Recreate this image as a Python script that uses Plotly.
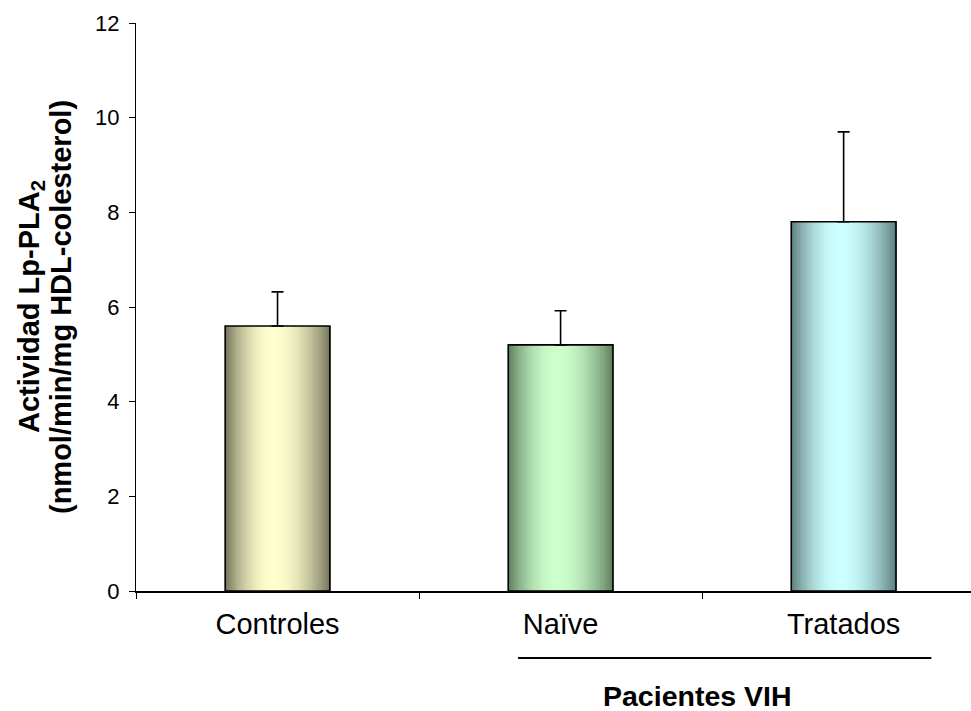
import math
import plotly.graph_objects as go

categories = ["Controles", "Naïve", "Tratados"]
values = [5.6, 5.2, 7.8]
errors_up = [0.72, 0.72, 1.9]
y_ticks = [0, 2, 4, 6, 8, 10, 12]

# gradient colours (edge, centre) per bar
edge_colors = [(112, 112, 88), (90, 122, 90), (90, 122, 122)]
center_colors = [(255, 255, 206), (204, 255, 204), (204, 255, 255)]

FONT = "Liberation Sans, Arial, sans-serif"
BAR_W = 0.37
N = 48
PEAK = 0.46

fig = go.Figure()

for k in range(N):
    t = (k + 0.5) / N
    u = 0.5 * t / PEAK if t < PEAK else 0.5 + 0.5 * (t - PEAK) / (1 - PEAK)
    s = math.sin(math.pi * u) ** 0.85
    cols = []
    for e, c in zip(edge_colors, center_colors):
        r, g, b = (round(e[i] + (c[i] - e[i]) * s) for i in range(3))
        cols.append(f"rgb({r},{g},{b})")
    fig.add_trace(go.Bar(
        x=categories, y=values,
        width=BAR_W / N * 1.3,
        offset=-BAR_W / 2 + k * BAR_W / N,
        marker=dict(color=cols, line=dict(width=0)),
        hoverinfo="skip", showlegend=False,
    ))

fig.add_trace(go.Bar(
    x=categories, y=values, width=BAR_W,
    marker=dict(color="rgba(0,0,0,0)", line=dict(color="black", width=1.6)),
    error_y=dict(type="data", array=errors_up, arrayminus=[0] * len(values),
                 symmetric=False, color="black", thickness=1.6, width=6),
    hoverinfo="skip", showlegend=False,
))

fig.update_layout(
    width=971, height=711,
    margin=dict(l=136, r=0, t=23, b=120),
    paper_bgcolor="white", plot_bgcolor="white",
    barmode="overlay",
    font=dict(family=FONT, color="black"),
    xaxis=dict(
        type="category", range=[-0.5, 2.45],
        showline=True, linecolor="black", linewidth=1.5,
        ticks="outside", tickson="boundaries", ticklen=6, tickcolor="black",
        ticklabelstandoff=6,
        tickfont=dict(size=29, family=FONT, color="black"),
        showgrid=False, zeroline=False,
    ),
    yaxis=dict(
        range=[0, 12], tickvals=y_ticks,
        showline=True, linecolor="black", linewidth=1,
        ticks="outside", ticklen=6, tickcolor="black",
        ticklabelstandoff=5,
        tickfont=dict(size=22, family=FONT, color="black"),
        showgrid=False, zeroline=False,
    ),
    shapes=[dict(type="line", xref="x", yref="paper",
                 x0=0.85, x1=2.31, y0=-0.118, y1=-0.118,
                 line=dict(color="black", width=2))],
    annotations=[
        dict(text="<b>Pacientes VIH</b>", xref="x", yref="paper",
             x=1.485, y=-0.184, xanchor="center", yanchor="middle",
             showarrow=False, font=dict(size=28.5, family=FONT, color="black")),
        dict(text="<b>Actividad Lp-PLA<sub>2</sub></b>",
             xref="paper", yref="paper", x=(31 - 136) / 835, y=0.5,
             xanchor="center", yanchor="middle", textangle=-90,
             showarrow=False, font=dict(size=29, family=FONT, color="black")),
        dict(text="<b>(nmol/min/mg HDL-colesterol)</b>",
             xref="paper", yref="paper", x=(61 - 136) / 835, y=0.5,
             xanchor="center", yanchor="middle", textangle=-90,
             showarrow=False, font=dict(size=29, family=FONT, color="black")),
    ],
)

fig.write_html("out.html", config={"displayModeBar": False},
               post_script="document.body.style.margin='0';")
